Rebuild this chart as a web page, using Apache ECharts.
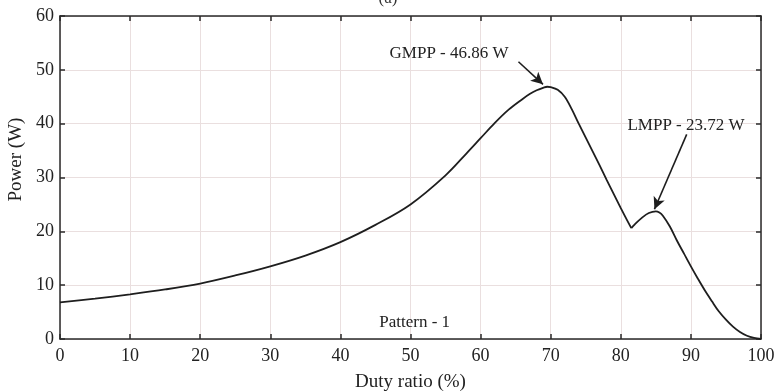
<!DOCTYPE html>
<html>
<head>
<meta charset="utf-8">
<script src="https://cdn.jsdelivr.net/npm/echarts@6/dist/echarts.min.js"></script>
<style>html,body{margin:0;padding:0;background:#fff}#c{width:776px;height:391px}</style>
</head>
<body>
<div id="c"></div>
<script>
// Data
var dutyRatio = [0, 5, 10, 15, 20, 25, 30, 35, 40, 45, 50, 55, 58, 60, 62, 64, 66, 67, 68, 69, 69.5, 70, 71, 72, 73, 74, 75, 76, 77, 78, 79, 80, 81, 81.5, 82, 83, 84, 85, 85.5, 86, 87, 88, 89, 90, 91, 92, 93, 94, 95, 96, 97, 98, 99, 100];
var power = [6.8, 7.5, 8.3, 9.2, 10.3, 11.8, 13.5, 15.5, 18.0, 21.2, 25.0, 30.4, 34.5, 37.3, 40.1, 42.6, 44.6, 45.5, 46.2, 46.7, 46.86, 46.8, 46.3, 45.0, 42.7, 40.0, 37.4, 34.8, 32.2, 29.5, 26.9, 24.3, 21.8, 20.6, 21.3, 22.5, 23.4, 23.72, 23.5, 22.9, 20.9, 18.3, 15.9, 13.5, 11.2, 9.0, 7.0, 5.1, 3.6, 2.3, 1.3, 0.6, 0.2, 0.0];
var xTicks = [0, 10, 20, 30, 40, 50, 60, 70, 80, 90, 100];
var yTicks = [0, 10, 20, 30, 40, 50, 60];
var annotations = [
  {text: 'GMPP - 46.86 W', labelAt: [55.5, 53.0], arrowFrom: [65.4, 51.5], arrowTo: [68.9, 47.3]},
  {text: 'LMPP - 23.72 W', labelAt: [89.3, 39.7], arrowFrom: [89.4, 38.0], arrowTo: [84.8, 24.1]}
];
var patternLabel = {text: 'Pattern - 1', at: [50.6, 3.0]};

var FONT = 'Liberation Serif';
var seriesData = dutyRatio.map(function (d, i) { return [d, power[i]]; });
// split at the sharp local minimum so smoothing keeps the corner
var minIdx = dutyRatio.indexOf(81.5);
var partA = seriesData.slice(0, minIdx + 1);
var partB = seriesData.slice(minIdx);

var chart = echarts.init(document.getElementById('c'), null, {renderer: 'canvas'});
var axisLine = {show: true, onZero: false, lineStyle: {color: '#2a2a2a', width: 1.5}};
var tickStyle = {show: true, inside: true, length: 5, lineStyle: {color: '#2a2a2a', width: 1.5}};

var markPts = annotations.map(function (a) {
  return {coord: a.labelAt, value: a.text};
});
markPts.push({coord: patternLabel.at, value: patternLabel.text});

var lineStyle = {color: '#1e1e1e', width: 1.8};

chart.setOption({
  animation: false,
  backgroundColor: '#fff',
  title: {text: '(a)', left: 'center', top: -15, textStyle: {fontFamily: FONT, fontSize: 17, fontWeight: 'normal', color: '#333'}},
  grid: {left: 60, right: 15, top: 16, bottom: 52, containLabel: false, outerBoundsMode: 'none'},
  xAxis: [{
    type: 'value', min: 0, max: 100, interval: 10,
    name: 'Duty ratio (%)', nameLocation: 'middle', nameGap: 34,
    nameTextStyle: {fontFamily: FONT, fontSize: 19, color: '#222'},
    axisLine: axisLine, axisTick: tickStyle,
    axisLabel: {fontFamily: FONT, fontSize: 18, color: '#222', margin: 8},
    splitLine: {show: true, lineStyle: {color: '#eadfdf', width: 1}}
  }, {
    type: 'value', min: 0, max: 100, interval: 10, position: 'top',
    axisLine: axisLine, axisTick: tickStyle, axisLabel: {show: false}, splitLine: {show: false}
  }],
  yAxis: [{
    type: 'value', min: 0, max: 60, interval: 10,
    name: 'Power (W)', nameLocation: 'middle', nameGap: 30,
    nameTextStyle: {fontFamily: FONT, fontSize: 19, color: '#222', padding: [0, 0, 0, 36]},
    axisLine: axisLine, axisTick: tickStyle,
    axisLabel: {fontFamily: FONT, fontSize: 18, color: '#222', margin: 6},
    splitLine: {show: true, lineStyle: {color: '#eadfdf', width: 1}}
  }, {
    type: 'value', min: 0, max: 60, interval: 10, position: 'right',
    axisLine: axisLine, axisTick: tickStyle, axisLabel: {show: false}, splitLine: {show: false}
  }],
  series: [{
    type: 'line', data: partA, showSymbol: false, smooth: 0.35,
    lineStyle: lineStyle, z: 5,
    markPoint: {
      symbol: 'circle', symbolSize: 0,
      label: {show: true, position: 'inside', formatter: function (p) { return p.value; },
        fontFamily: FONT, fontSize: 17, color: '#222'},
      data: markPts
    },
    markLine: {
      silent: true, symbol: ['none', 'arrow'], symbolSize: [9, 12],
      label: {show: false},
      lineStyle: {color: '#1e1e1e', width: 1.6, type: 'solid'},
      data: annotations.map(function (a) {
        return [{coord: a.arrowFrom}, {coord: a.arrowTo}];
      })
    }
  }, {
    type: 'line', data: partB, showSymbol: false, smooth: 0.35,
    lineStyle: lineStyle, z: 5
  }]
});
</script>
</body>
</html>
